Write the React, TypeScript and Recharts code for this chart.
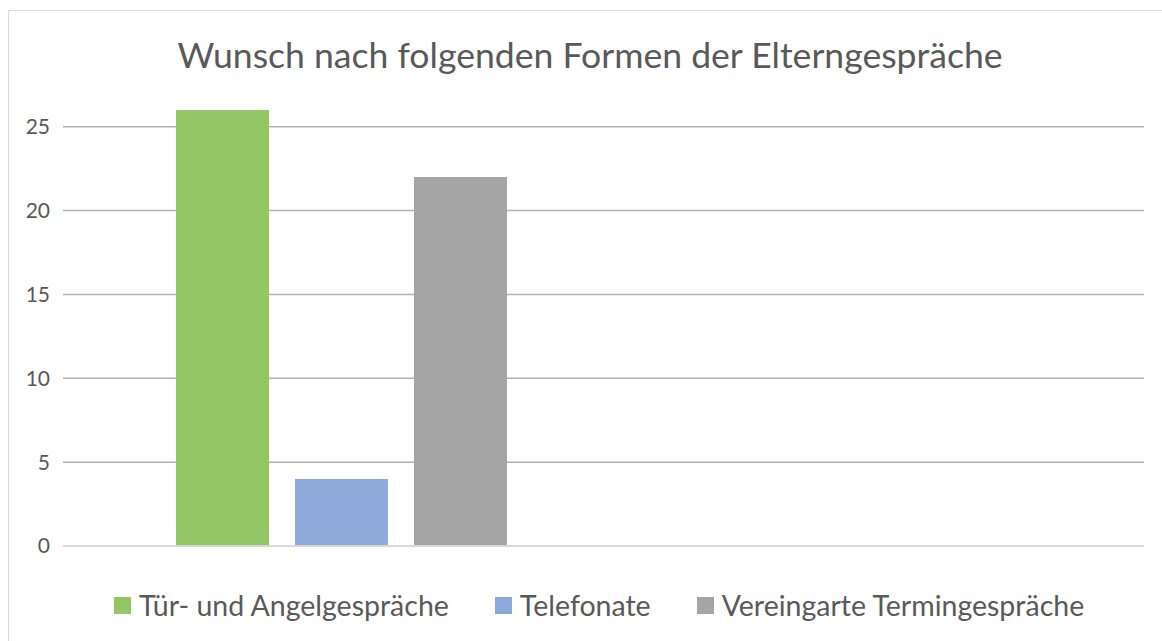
import { BarChart, Bar, XAxis, YAxis, CartesianGrid, ReferenceLine } from 'recharts';

const categories = ['Formen', ''];
const seriesNames = ['Tür- und Angelgespräche', 'Telefonate', 'Vereingarte Termingespräche'];
const seriesValues = [26, 4, 22];
const seriesColors = ['#93c664', '#8eaadb', '#a5a5a5'];
const yTicks = [0, 5, 10, 15, 20, 25];

const FONT = 'Lato, "Open Sans", sans-serif';

// second category stays empty, like the source sheet
const data = categories.map((cat, i) => {
  const row: Record<string, string | number | null> = { cat };
  seriesNames.forEach((name, s) => {
    row[name] = i === 0 ? seriesValues[s] : null;
  });
  return row;
});

function LegendItems() {
  return (
    <div style={{
      position: 'absolute', left: 114, top: 586, display: 'flex', gap: 46,
      fontFamily: FONT, fontSize: 28.5, color: '#595959', lineHeight: '38px',
    }}>
      {seriesNames.map((name, i) => (
        <div key={name} style={{ display: 'flex', alignItems: 'center', gap: 8 }}>
          <span style={{ width: 17, height: 17, background: seriesColors[i], display: 'inline-block' }} />
          <span>{name}</span>
        </div>
      ))}
    </div>
  );
}

export default function App() {
  return (
    <div style={{ position: 'absolute', left: 0, top: 0, width: 1162, height: 641, background: '#fff', overflow: 'hidden' }}>
      <div style={{
        position: 'absolute', left: 8, top: 10, width: 1170, height: 660,
        border: '1.5px solid #d9d9d9', boxSizing: 'border-box',
      }} />
      <div style={{
        position: 'absolute', left: 0, top: 33, width: 1180, textAlign: 'center',
        fontFamily: FONT, fontSize: 35.6, color: '#595959',
      }}>
        Wunsch nach folgenden Formen der Elterngespräche
      </div>
      <BarChart
        width={1162}
        height={641}
        data={data}
        margin={{ top: 110, right: 18, bottom: 95, left: 8 }}
        barSize={93}
        barGap={26}
        style={{ position: 'absolute', left: 0, top: 0 }}
      >
        <CartesianGrid vertical={false} stroke="#b3b3b3" strokeWidth={1.5} horizontalValues={yTicks} />
        <XAxis dataKey="cat" hide padding={{ left: 11, right: 0 }} />
        <YAxis
          width={55}
          domain={[0, 26]}
          allowDataOverflow
          ticks={yTicks}
          axisLine={false}
          tickLine={false}
          tickSize={0}
          tickMargin={13}
          tick={{ fontFamily: FONT, fontSize: 21, fill: '#595959' }}
        />
        <ReferenceLine y={0} stroke="#d9d9d9" strokeWidth={2} />
        {seriesNames.map((name, i) => (
          <Bar key={name} dataKey={name} fill={seriesColors[i]} isAnimationActive={false} />
        ))}
      </BarChart>
      <LegendItems />
    </div>
  );
}
